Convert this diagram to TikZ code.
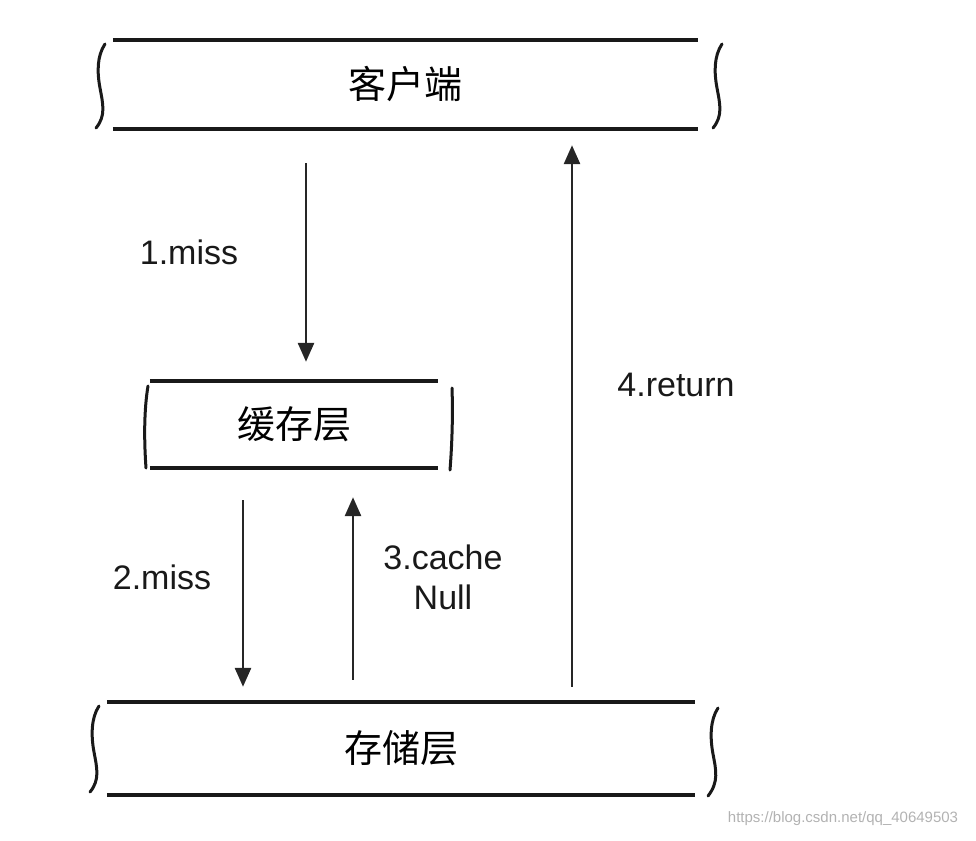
\documentclass[tikz,border=0pt]{standalone}
\usepackage{fontspec}
\setmainfont{Liberation Sans}
\newfontfamily\cjk{Noto Sans CJK SC}
\usetikzlibrary{arrows.meta}
\tikzset{
  box/.style={inner sep=0pt, font=\cjk\fontsize{38}{44}\selectfont},
  hline/.style={line width=4pt, black!90},
  brk/.style={line width=3pt, line cap=round, black!90},
  flow/.style={line width=2.8pt, black!85, -{Triangle[length=19pt,width=16pt]}},
  lbl/.style={font=\fontsize{34}{40}\selectfont, align=center, inner sep=0pt, text=black!90},
}
\begin{document}
\begin{tikzpicture}[x=1pt,y=-1pt]
\useasboundingbox (0,0) rectangle (976,840);
% boxes
\node[box, minimum width=585pt, minimum height=89pt] (client) at (405.5,84.5) {客户端};
\node[box, minimum width=288pt, minimum height=87pt] (cache) at (294,424.5) {缓存层};
\node[box, minimum width=588pt, minimum height=93pt] (store) at (401,748.5) {存储层};
\foreach \b in {client,cache,store}{
  \draw[hline] (\b.north west) -- (\b.north east);
  \draw[hline] (\b.south west) -- (\b.south east);
}
% brackets
\draw[brk] (105,44) .. controls (97,56) and (97,72) .. (100,88) .. controls (103,104) and (106,116) .. (96,128);
\draw[brk] (722,44) .. controls (714,56) and (714,72) .. (717,88) .. controls (720,104) and (723,116) .. (713,128);
\draw[brk] (148,386) .. controls (144,410) and (144,440) .. (146,468);
\draw[brk] (452,388) .. controls (453,415) and (452,445) .. (450,470);
\draw[brk] (99,706) .. controls (91,718) and (91,736) .. (94,752) .. controls (97,768) and (100,780) .. (90,792);
\draw[brk] (718,708) .. controls (710,720) and (710,738) .. (713,754) .. controls (716,770) and (719,782) .. (708,796);
% arrows
\draw[flow, shorten <=34pt, shorten >=19pt] (client.south -| 306,0) -- (cache.north -| 306,0);
\draw[flow, shorten <=32pt, shorten >=15pt] (cache.south -| 243,0) -- (store.north -| 243,0);
\draw[flow, shorten <=22pt, shorten >=29pt] (store.north -| 353,0) -- (cache.south -| 353,0);
\draw[flow, shorten <=15pt, shorten >=16pt] (store.north -| 572,0) -- (client.south -| 572,0);
% labels
\node[lbl] (l1) at (189,252) {1.miss};
\node[lbl] (l2) at (162,577) {2.miss};
\node[lbl] (l3) at (443,577) {3.cache\\Null};
\node[lbl] (l4) at (676,385) {4.return};
% watermark
\node[font=\fontsize{15}{18}\selectfont, text=black!30, inner sep=0pt] (wm) at (843,819) {https://blog.csdn.net/qq\_40649503};
\end{tikzpicture}
\end{document}
